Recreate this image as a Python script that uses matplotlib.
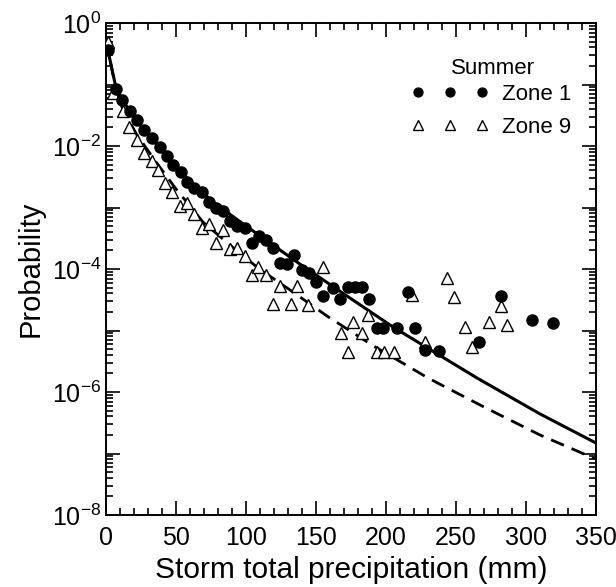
import numpy as np
import matplotlib
matplotlib.use("Agg")
import matplotlib.pyplot as plt
import matplotlib.transforms as mtransforms
from matplotlib.ticker import FixedLocator, MultipleLocator, FuncFormatter, NullFormatter

plt.rcParams['font.family'] = ['Liberation Sans', 'DejaVu Sans']
plt.rcParams['mathtext.fontset'] = 'custom'
plt.rcParams['mathtext.rm'] = 'Liberation Sans'
plt.rcParams['mathtext.it'] = 'Liberation Sans'

# Zone 1 observed points (summer)
zone1_x = [1.4, 7, 11.4, 17, 22, 27, 33, 38.6, 43.6, 48, 53.6, 58, 63, 68.6, 73.6, 78.6,
           83.6, 88.6, 93.6, 99.3, 104.3, 109.3, 114.3, 119.3, 124.3, 129.3, 134.3, 140,
           145, 150, 155, 162, 167, 173, 178, 183, 188, 193.6, 198, 208, 215.7, 220.7,
           228, 238, 266.4, 282, 304.3, 319.3]
zone1_p = [0.36, 0.085, 0.056, 0.037, 0.026, 0.018, 0.0135, 0.0095, 0.0069, 0.0049,
           0.0038, 0.0026, 0.0021, 0.0018, 0.00123, 0.00098, 0.00087, 0.0006, 0.0005,
           0.00047, 0.00026, 0.00035, 0.0003, 0.00022, 1.26e-4, 1.2e-4, 1.7e-4, 9.5e-5,
           8.5e-5, 6.2e-5, 3.6e-5, 4.9e-5, 3.2e-5, 5.1e-5, 5.1e-5, 5.1e-5, 3.2e-5,
           1.1e-5, 1.1e-5, 1.1e-5, 4.3e-5, 1.1e-5, 4.8e-6, 4.7e-6, 6.5e-6, 3.6e-5,
           1.5e-5, 1.3e-5]

# Zone 9 observed points (summer)
zone9_x = [1.4, 5, 12, 16.4, 22, 27, 33, 37, 42, 47, 53, 58, 63, 68.6, 73.6, 78.6, 83.6,
           88.6, 93.6, 99.3, 104.3, 108.6, 114.3, 119.3, 124.3, 132, 136.4, 144.3, 155,
           168, 173, 176.4, 183, 187, 193.6, 198.6, 205.7, 218.6, 228, 243.6, 248.6,
           256.4, 261.4, 273.6, 282, 286.4]
zone9_p = [0.49, 0.072, 0.037, 0.020, 0.0126, 0.0078, 0.0058, 0.0041, 0.0025, 0.0018,
           0.00105, 0.00117, 0.00078, 0.00047, 0.00054, 0.00026, 0.00043, 0.00021,
           0.00022, 0.00016, 7.9e-5, 1.07e-4, 7.9e-5, 2.7e-5, 5.2e-5, 2.7e-5, 5.2e-5,
           2.6e-5, 1.07e-4, 9.1e-6, 4.5e-6, 1.38e-5, 9.1e-6, 1.8e-5, 4.5e-6, 4.5e-6,
           4.5e-6, 3.8e-5, 6.5e-6, 7.1e-5, 3.5e-5, 1.15e-5, 5.4e-6, 1.4e-5, 2.5e-5,
           1.23e-5]

# Fitted curves
fit1_x = [0, 2.86, 7.14, 12.14, 22.14, 35.71, 50, 76.43, 100, 138.57, 174.29, 205, 265, 310, 350]
fit1_p = [0.53, 0.25, 8.8e-2, 5.4e-2, 2.55e-2, 1.08e-2, 4.4e-3, 1.23e-3, 5.0e-4, 1.2e-4,
          3.37e-5, 1.14e-5, 1.69e-6, 4.4e-7, 1.48e-7]
fit9_x = [0, 2.86, 7.14, 12.14, 22.14, 35.71, 50, 69.29, 88.57, 108.57, 131.43, 157.86,
          190, 230, 270, 310, 350]
fit9_p = [0.53, 0.25, 8.15e-2, 3.85e-2, 1.51e-2, 5.5e-3, 2.0e-3, 5.8e-4, 2.45e-4, 1.04e-4,
          4.56e-5, 1.72e-5, 5.8e-6, 1.69e-6, 5.7e-7, 2.0e-7, 8.1e-8]

decades = list(range(-8, 1))
legend_title = 'Summer'

W, H = 616, 587
fig = plt.figure(figsize=(W / 100, H / 100), dpi=100)
ax = fig.add_axes([106 / W, 1 - 515 / H, (596 - 106) / W, (515 - 23) / H])

ax.plot(fit1_x, fit1_p, '-', color='black', lw=2.2, zorder=2)
ax.plot(fit9_x, fit9_p, '--', color='black', lw=2.0, dashes=(5, 3), zorder=2)
ax.plot(zone9_x, zone9_p, '^', ms=9, mfc='white', mec='black', mew=1.0, ls='none',
        label='Zone 9', zorder=3)
ax.plot(zone1_x, zone1_p, 'o', ms=8, mfc='black', mec='black', ls='none',
        label='Zone 1', zorder=4)

ax.set_yscale('log')
ax.set_xlim(0, 350)
ax.set_ylim(1e-8, 1)

ax.xaxis.set_major_locator(MultipleLocator(50))
ax.xaxis.set_minor_locator(MultipleLocator(10))
major_y = [10.0 ** d for d in decades]
minor_y = [m * 10.0 ** d for d in decades[:-1] for m in range(2, 10)]
ax.yaxis.set_major_locator(FixedLocator(major_y))
ax.yaxis.set_minor_locator(FixedLocator(minor_y))
ax.yaxis.set_minor_formatter(NullFormatter())


def yfmt(v, pos):
    e = int(round(np.log10(v)))
    if e % 2 != 0:
        return ''
    return r'$\mathdefault{10^{%d}}$' % e


ax.yaxis.set_major_formatter(FuncFormatter(yfmt))
ax.tick_params(which='both', direction='in', top=True, right=True, labelsize=18,
               width=1.2)
ax.tick_params(which='major', length=10)
ax.tick_params(which='minor', length=5)
ax.tick_params(axis='x', pad=8)
for s in ax.spines.values():
    s.set_linewidth(1.4)

ax.set_xlabel('Storm total precipitation (mm)', fontsize=21.5, labelpad=4)
ax.set_ylabel('Probability', fontsize=21, labelpad=5)

# shift last x tick label slightly left so it stays inside the figure
fig.canvas.draw()
xlabels = ax.get_xticklabels()
if xlabels:
    last = xlabels[-1]
    last.set_transform(last.get_transform() +
                       mtransforms.ScaledTranslation(-6 / 100, 0, fig.dpi_scale_trans))

handles, labels = ax.get_legend_handles_labels()
leg = ax.legend(handles[::-1], labels[::-1], numpoints=3,
                frameon=False, fontsize=16,
                loc='upper left', bbox_to_anchor=(411 / W, 1 - 84 / H),
                bbox_transform=fig.transFigure, borderpad=0, borderaxespad=0,
                handlelength=3.5, handletextpad=0.6, labelspacing=0.55,
                markerscale=0.8)
fig.text(493 / W, 1 - 68 / H, legend_title, ha='center', va='center', fontsize=16)

fig.savefig('out.png', dpi=100)
